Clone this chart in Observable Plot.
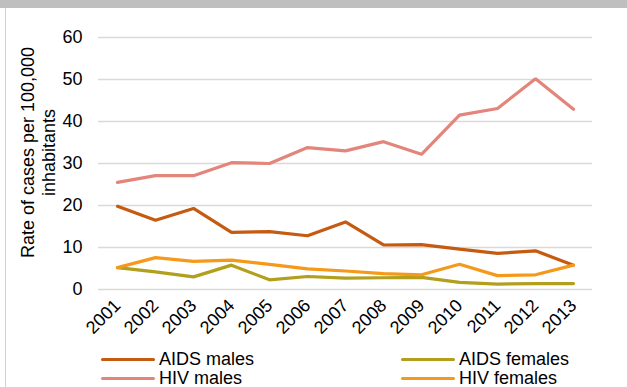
<!DOCTYPE html>
<html><head><meta charset="utf-8">
<script src="https://cdn.jsdelivr.net/npm/d3@7"></script>
<script src="https://cdn.jsdelivr.net/npm/@observablehq/plot@0.6"></script>
<style>
body{margin:0;background:#fff;font-family:"Liberation Sans",Arial,sans-serif;}
#wrap{position:relative;width:627px;height:387px;overflow:hidden;background:#fff;}
#band{position:absolute;left:0;top:0;width:627px;height:8px;background:#bfbfbf;}
#lborder{position:absolute;left:5px;top:8px;width:1px;height:379px;background:#d0d0d0;}
#chart{position:absolute;left:0;top:0;}
.leg{position:absolute;font-size:18px;color:#000;line-height:16px;height:16px;white-space:nowrap;}
.sw{position:absolute;height:3px;border-radius:2px;}
</style></head><body>
<div id="wrap">
<div id="chart"></div>
<div id="band"></div>
<div id="lborder"></div>
<div id="legend"></div>
</div>
<script>
const years = ["2001","2002","2003","2004","2005","2006","2007","2008","2009","2010","2011","2012","2013"];
const aidsMales   = [19.8,16.5,19.3,13.6,13.8,12.8,16.1,10.6,10.7,9.6,8.6,9.2,5.8];
const aidsFemales = [5.2,4.2,3.0,5.8,2.3,3.1,2.7,2.8,2.9,1.7,1.3,1.4,1.4];
const hivMales    = [25.5,27.1,27.1,30.2,30.0,33.8,33.0,35.2,32.2,41.5,43.1,50.2,42.9];
const hivFemales  = [5.2,7.6,6.7,7.0,6.0,4.9,4.4,3.8,3.5,6.0,3.3,3.5,5.8];
const seriesNames = ["AIDS males","AIDS females","HIV males","HIV females"];
const seriesColors = ["#c55a11","#b19f1d","#e3857b","#f4991a"];
const yTicks = [0,10,20,30,40,50,60];
const yTitle = "Rate of cases per 100,000\ninhabitants";

const seriesValues = [aidsMales, aidsFemales, hivMales, hivFemales];
const data = [];
seriesNames.forEach((s, i) => years.forEach((y, j) => data.push({series: s, year: y, value: seriesValues[i][j]})));

const plot = Plot.plot({
  width: 627, height: 345,
  marginLeft: 98, marginRight: 35, marginTop: 37, marginBottom: 56,
  style: {fontFamily: '"Liberation Sans", Arial, sans-serif', fontSize: "18px", color: "#000", background: "transparent", overflow: "visible"},
  x: {type: "point", domain: years, padding: 0.5, label: null},
  y: {domain: [0, 60], label: null},
  color: {domain: seriesNames, range: seriesColors},
  marks: [
    Plot.gridY(yTicks, {stroke: "#d9d9d9", strokeOpacity: 1, strokeWidth: 1.5}),
    Plot.axisY({ticks: yTicks, tickSize: 0, tickPadding: 16, fontSize: 18, fill: "#000"}),
    Plot.axisX({tickSize: 0, tickRotate: -45, tickPadding: 13, fontSize: 18, fill: "#000"}),
    Plot.line(data, {x: "year", y: "value", z: "series", stroke: "series", strokeWidth: 3.2, strokeLinejoin: "miter", strokeLinecap: "round"}),
    Plot.text([yTitle], {frameAnchor: "left", dx: -61, dy: -11, rotate: -90, fontSize: 18, textAnchor: "middle", lineAnchor: "middle", lineHeight: 1.2, fill: "#000"})
  ]
});
document.getElementById("chart").appendChild(plot);

const leg = document.getElementById("legend");
const legPos = [[101,359],[401,359],[101,378],[401,378]];
seriesNames.forEach((s, i) => {
  const [x, y] = legPos[i];
  const sw = document.createElement("div");
  sw.className = "sw";
  sw.style.left = x + "px"; sw.style.top = (y - 1.5) + "px"; sw.style.width = "54px";
  sw.style.background = seriesColors[i];
  leg.appendChild(sw);
  const t = document.createElement("div");
  t.className = "leg";
  t.textContent = s;
  t.style.left = (x + 58) + "px"; t.style.top = (y - 8) + "px";
  leg.appendChild(t);
});
</script>
</body></html>
